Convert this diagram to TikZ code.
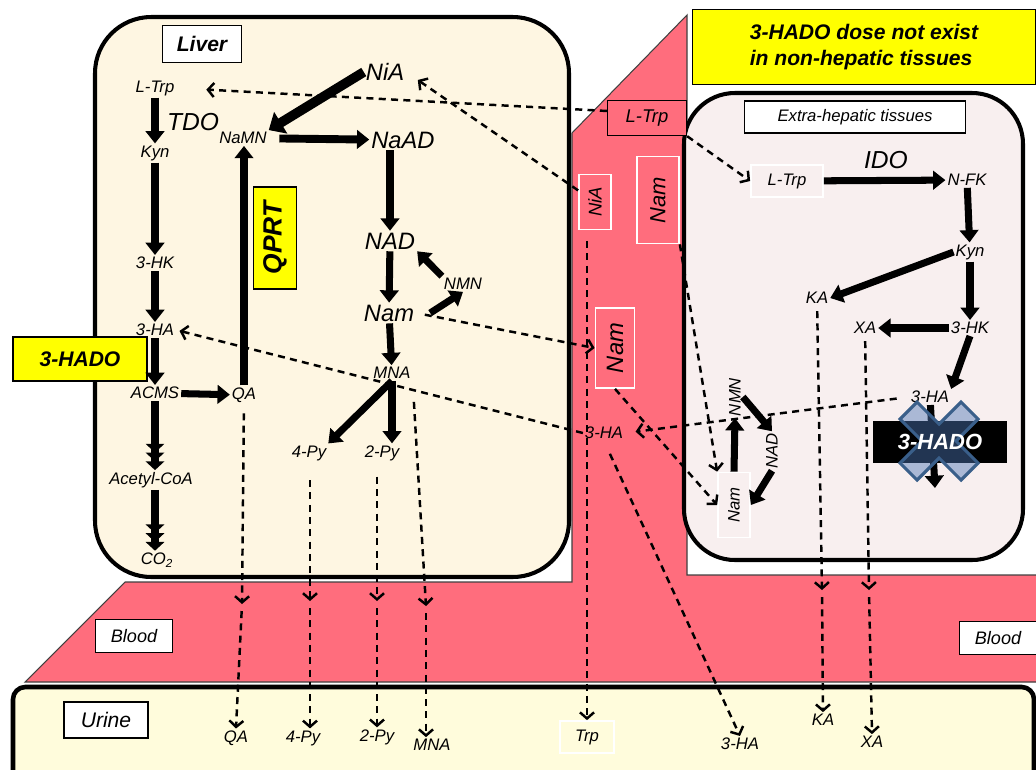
\documentclass[tikz,border=0pt]{standalone}
\usepackage{fontspec}
\setmainfont{Liberation Sans}
\usetikzlibrary{arrows.meta,positioning}
\definecolor{cCream}{HTML}{FEF6E2}
\definecolor{cBlood}{HTML}{FF6D7D}
\definecolor{cTissue}{HTML}{F8EFEF}
\definecolor{cUrine}{HTML}{FFFCDC}
\definecolor{cYellow}{HTML}{FFFF00}
\definecolor{cCross}{HTML}{4D76B6}
\definecolor{cCrossLine}{HTML}{3A5F8A}
\tikzset{
  met/.style={font=\fontsize{9.5}{11}\selectfont\itshape,inner sep=1pt},
  metl/.style={font=\fontsize{13.5}{15}\selectfont\itshape,inner sep=1pt},
  enz/.style={font=\fontsize{14}{16}\selectfont\itshape,inner sep=1pt},
  tagbox/.style={draw=black,fill=white,line width=0.8pt,minimum width=#1,minimum height=0.66cm,inner sep=1pt,font=\fontsize{10.3}{12}\selectfont\itshape},
  tagbox/.default=1.54cm,
  ybox/.style={draw=black,fill=cYellow,line width=0.8pt,align=left,inner sep=1pt,font=\fontsize{12}{14.5}\selectfont\bfseries\itshape},
  wbox/.style={draw=white,line width=1pt,inner sep=1pt},
  arr/.style={-{Triangle[length=7pt,width=10.5pt]},line width=4pt},
  arrw/.style={-{Triangle[length=8pt,width=14pt]},line width=5.5pt},
  arrm/.style={-{Triangle[length=5pt,width=10.5pt]Triangle[length=5pt,width=10.5pt]Triangle[length=5pt,width=10.5pt]},line width=4pt},
  dsh/.style={-{Straight Barb[length=3.5pt,width=8pt]},line width=1.4pt,dash pattern=on 4pt off 3pt},
}
\begin{document}
\begin{tikzpicture}[x=0.02cm,y=-0.02cm]
  \useasboundingbox (0,0) rectangle (1036,769);
  % compartments
  \draw[fill=cBlood,draw=black!75,line width=0.6pt] (572,133) -- (687,15) -- (687,575) -- (1040,575)
    -- (1040,682) -- (25,682) -- (125,582) -- (572,582) -- cycle;
  \draw[fill=cCream,line width=2.3pt,rounded corners=32pt] (95,17) rectangle (569,577);
  \draw[fill=cTissue,line width=2.3pt,rounded corners=29pt] (684,93) rectangle (1023,560);
  \draw[fill=cUrine,line width=2.6pt,rounded corners=7pt] (13,687) rectangle (1034,800);

  \node[tagbox=1.58cm,minimum height=0.74cm,font=\fontsize{12}{14}\selectfont\bfseries\itshape] (liver) at (202,44) {Liver};
  \node[tagbox=4.42cm,minimum height=0.64cm,font=\fontsize{9.5}{11}\selectfont\itshape] (extra) at (855,117) {Extra-hepatic tissues};
  \node[tagbox] (bloodl) at (134,636) {Blood};
  \node[tagbox] (bloodr) at (998,638) {Blood};
  \node[tagbox=1.68cm,minimum height=0.72cm,font=\fontsize{12}{14}\selectfont\itshape] (urine) at (106,720) {Urine};
  \node[ybox,minimum width=6.86cm,minimum height=1.5cm] (note) at (864,47) {3-HADO dose not exist\\in non-hepatic tissues};
  \node[ybox,minimum width=2.68cm,minimum height=0.88cm] (hadol) at (80,359) {3-HADO};

  % liver
  \node[met] (ltrp) at (155,88) {L-Trp};
  \node[met] (kyn) at (155,153) {Kyn};
  \node[enz] (tdo) at (193,122) {TDO};
  \node[met] (hk3) at (155,263) {3-HK};
  \node[met] (ha3) at (155,330) {3-HA};
  \node[met] (acms) at (155,393) {ACMS};
  \node[met] (acoa) at (151,480) {Acetyl-CoA};
  \node[met] (co2) at (157,560) {CO\textsubscript{2}};
  \node[met] (qa) at (244,395) {QA};
  \node[met] (namn) at (243,138) {NaMN};
  \node[metl] (nia) at (385,72) {NiA};
  \node[metl] (naad) at (403,140) {NaAD};
  \node[metl] (nad) at (390,241) {NAD};
  \node[met] (nmn) at (463,284) {NMN};
  \node[metl] (nam) at (389,313) {Nam};
  \node[met] (mna) at (392,373) {MNA};
  \node[met] (py4) at (309,453) {4-Py};
  \node[met] (py2) at (382,453) {2-Py};
  \node[ybox,minimum width=0.86cm,minimum height=2.04cm,font=\fontsize{15}{17}\selectfont\bfseries\itshape] (qprt) at (275,238) {\rotatebox{90}{QPRT}};

  % blood
  \node[draw=black,fill=cBlood,line width=0.8pt,minimum width=1.58cm,minimum height=0.70cm,inner sep=1pt,
    font=\fontsize{10.5}{12}\selectfont\itshape] (ltrpb) at (647,118) {L-Trp};
  \node[wbox,minimum width=0.64cm,minimum height=1.10cm,font=\fontsize{10.5}{12}\selectfont\itshape] (niab) at (595,202) {\rotatebox{90}{NiA}};
  \node[wbox,minimum width=0.84cm,minimum height=1.74cm,font=\fontsize{12.5}{14}\selectfont\itshape] (namb1) at (658,200) {\rotatebox{90}{Nam}};
  \node[wbox,minimum width=0.78cm,minimum height=1.60cm,font=\fontsize{13.5}{15}\selectfont\itshape] (namb2) at (615,348) {\rotatebox{90}{Nam}};
  \node[met] (ha3b) at (604,433) {3-HA};
  \coordinate (bqa) at (242,604);
  \coordinate (bpy4) at (310,601);
  \coordinate (bpy2) at (377,601);
  \coordinate (bmna) at (426,606);
  \coordinate (bka) at (822,590);
  \coordinate (bxa) at (869,590);

  % urine
  \node[met] (uqa) at (236,738) {QA};
  \node[met] (upy4) at (303,738) {4-Py};
  \node[met] (upy2) at (377,737) {2-Py};
  \node[met] (umna) at (432,745) {MNA};
  \node[met,wbox,minimum width=1.08cm,minimum height=0.64cm] (trpu) at (587,737) {Trp};
  \node[met] (ha3u) at (740,744) {3-HA};
  \node[met] (uka) at (823,720) {KA};
  \node[met] (uxa) at (872,742) {XA};

  % extra-hepatic tissues
  \node[met,wbox,minimum width=1.44cm,minimum height=0.64cm] (ltrpx) at (787,181) {L-Trp};
  \node[enz] (ido) at (886,160) {IDO};
  \node[met] (nfk) at (967,180) {N-FK};
  \node[met] (kynx) at (970,252) {Kyn};
  \node[met] (ka) at (817,298) {KA};
  \node[met] (xa) at (865,328) {XA};
  \node[met] (hk3x) at (970,328) {3-HK};
  \node[met] (ha3x) at (930,397) {3-HA};
  \node[met] (nmnx) at (735,397) {\rotatebox{90}{NMN}};
  \node[met] (nadx) at (772,451) {\rotatebox{90}{NAD}};
  \node[met,wbox,minimum width=0.64cm,minimum height=1.30cm] (namx) at (734,505) {\rotatebox{90}{Nam}};

  % transport
  \draw[dsh,shorten >=17pt] ([yshift=4pt]ltrpb.west) -- (ltrp.east);
  \draw[dsh] (ltrpb.south east) -- (ltrpx.west);
  \draw[dsh,shorten >=8pt] (niab) -- (nia.east);
  \draw[dsh,shorten <=6pt] (niab.south -| trpu) -- (trpu.north);
  \draw[dsh,shorten <=5pt] (nam.east) -- (namb2.west);
  \draw[dsh] (namb1.south east) -- (namx.north west);
  \draw[dsh] (namb2.south) -- (namx.west);
  \draw[dsh,shorten <=7pt,shorten >=6pt] (ha3x.west) -- (ha3b.east);
  \draw[dsh,shorten >=2pt] (ha3b.west) -- (ha3.east);
  \draw[dsh,shorten <=8pt] (ha3b.south) -- (ha3u.north);
  \draw[dsh,shorten <=5pt] (qa) -- (bqa);
  \draw[dsh,shorten <=4pt] (bqa) -- (uqa.north);
  \draw[dsh,shorten <=10pt] (py4.south -| bpy4) -- (bpy4);
  \draw[dsh,shorten <=4pt] (bpy4) -- (bpy4 |- upy4.north);
  \draw[dsh,shorten <=8pt] (py2.south -| bpy2) -- (bpy2);
  \draw[dsh,shorten <=4pt] (bpy2) -- (bpy2 |- upy2.north);
  \draw[dsh,shorten <=12pt] (mna.south east) -- (bmna);
  \draw[dsh,shorten <=4pt] (bmna) -- (bmna |- umna.north);
  \draw[dsh,shorten <=3pt] (ka) -- (bka);
  \draw[dsh,shorten <=4pt] (bka) -- (uka.north);
  \draw[dsh,shorten <=3pt] (xa) -- (bxa);
  \draw[dsh,shorten <=4pt] (bxa) -- (uxa.north);

  % liver pathways
  \draw[arr] (ltrp) -- (kyn);
  \draw[arr] (kyn) -- (hk3);
  \draw[arr] (hk3) -- (ha3);
  \draw[arr] (ha3) -- (acms);
  \draw[arrm] (acms) -- (acms |- acoa.north);
  \draw[arrm] (acoa.south -| acms) -- (acms |- co2.north);
  \draw[arr] (acms) -- (qa);
  \draw[arr,line width=4.5pt] (qa) -- (qa |- namn.south);
  \draw[arrw] (nia.west) -- (namn.north east);
  \draw[arr,line width=4.5pt,shorten <=6pt] (namn) -- (naad);
  \draw[arr] (naad.south -| nad) -- (nad);
  \draw[arr] (nad) -- (nam);
  \draw[arr] ([xshift=8pt]nam.east) -- (nmn.south);
  \draw[arr] (nmn.north west) -- (nad.south east);
  \draw[arr] (nam) -- (mna);
  \draw[arr] (mna.south) -- (py4.north east);
  \draw[arr] (mna.south) -- (mna.south |- py2.north);

  % extra-hepatic pathways
  \draw[arr] (ltrpx) -- (nfk);
  \draw[arr] (nfk) -- (kynx);
  \draw[arr] (kynx.west) -- (ka.east);
  \draw[arr] (kynx) -- (hk3x);
  \draw[arr] (hk3x) -- (xa);
  \draw[arr] (hk3x.south) -- (ha3x.north east);
  \draw[arr] (nmnx.east) -- (nadx.north);
  \draw[arr] (nadx.south) -- (namx.east);
  \draw[arr] (namx.north) -- (nmnx.south);
  \coordinate (hadoend) at (935,488);
  \draw[arr] (ha3x) -- (hadoend);
  \node[fill=black,minimum width=2.68cm,minimum height=0.84cm] (hadobox) at (940,442) {};
  \begin{scope}[shift={(939,441)}]
    \draw[fill=cCross,fill opacity=0.45,draw=cCrossLine,line width=1.8pt,line join=miter]
      (0,-17) -- (22,-39) -- (39,-22) -- (17,0) -- (39,22) -- (22,39) -- (0,17)
      -- (-22,39) -- (-39,22) -- (-17,0) -- (-39,-22) -- (-22,-39) -- cycle;
  \end{scope}
  \node[font=\fontsize{12.5}{14}\selectfont\bfseries\itshape,text=white] (hado) at (hadobox) {3-HADO};
\end{tikzpicture}
\end{document}
